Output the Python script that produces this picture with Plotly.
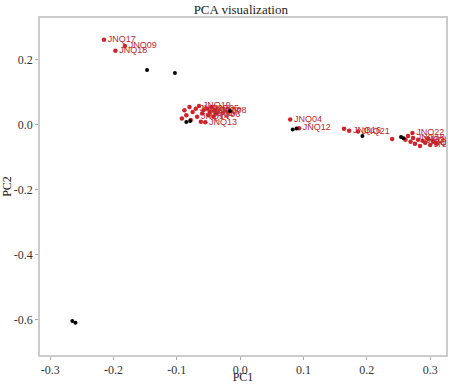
import plotly.graph_objects as go

# Red (labelled) samples
red_x = [-0.215, -0.182, -0.197,
         -0.088, -0.085, -0.080, -0.075, -0.070, -0.068, -0.065, -0.060, -0.058, -0.055,
         -0.052, -0.050, -0.048, -0.045, -0.042, -0.040, -0.038, -0.092, -0.078, -0.062,
         0.079, 0.093, 0.164, 0.172, 0.186, 0.240,
         0.261, 0.265, 0.269, 0.272, 0.273, 0.276, 0.281, 0.284, 0.288, 0.292, 0.297, 0.300, 0.305, 0.310]
red_y = [0.262, 0.243, 0.228,
         0.045, 0.030, 0.055, 0.040, 0.050, 0.025, 0.058, 0.035, 0.045, 0.008,
         0.050, 0.030, 0.040, 0.055, 0.025, 0.045, 0.035, 0.020, 0.015, 0.010,
         0.017, -0.010, -0.012, -0.018, -0.020, -0.043,
         -0.046, -0.034, -0.052, -0.025, -0.040, -0.058, -0.046, -0.065, -0.049, -0.055, -0.043, -0.062, -0.052, -0.058]
red_labels = ["JNQ17", "JNQ09", "JNQ18",
              "", "", "", "", "JNQ20", "JNQ14", "JNQ19", "JNQ01", "JNQ02", "JNQ13",
              "JNQ05", "JNQ06", "JNQ07", "", "", "JNQ08", "", "", "", "",
              "JNQ04", "JNQ12", "", "JNQ16", "JNQ21", "",
              "", "", "", "JNQ22", "JNQ10", "", "JNQ11", "", "JNQ03", "JNQ15", "", "JNQ23", "", ""]

# Black (unlabelled) samples
black_x = [-0.265, -0.260, -0.147, -0.103, -0.085, -0.079, -0.016, 0.083, 0.089, 0.193, 0.254, 0.258]
black_y = [-0.603, -0.609, 0.169, 0.160, 0.009, 0.012, 0.043, -0.014, -0.011, -0.034, -0.037, -0.041]

x_ticks = [-0.3, -0.2, -0.1, 0.0, 0.1, 0.2, 0.3]
y_ticks = [0.2, 0.0, -0.2, -0.4, -0.6]

fig = go.Figure()
fig.add_trace(go.Scatter(
    x=red_x, y=red_y, mode="markers+text", text=red_labels,
    textposition="middle right",
    textfont=dict(family="Liberation Sans", size=9, color="#c0272d"),
    marker=dict(color="#d1232a", size=4.5), showlegend=False))
fig.add_trace(go.Scatter(
    x=black_x, y=black_y, mode="markers",
    marker=dict(color="black", size=4), showlegend=False))

axis_common = dict(
    showgrid=False, zeroline=False, showline=True, linecolor="#cccccc", linewidth=1.5,
    mirror=True, ticks="outside", ticklen=3, tickcolor="#aaaaaa", automargin=False,
    tickfont=dict(family="Liberation Serif", size=12, color="#333333"),
)
fig.update_xaxes(range=[-0.316, 0.325], tickvals=x_ticks,
                 ticktext=[f"{v:.1f}" for v in x_ticks],
                 title=dict(text="PC1", standoff=0,
                            font=dict(family="Liberation Serif", size=12, color="#222222")),
                 **axis_common)
fig.update_yaxes(range=[-0.708, 0.329], tickvals=y_ticks,
                 ticktext=[f"{v:.1f}" for v in y_ticks],
                 title=dict(text="PC2", standoff=0,
                            font=dict(family="Liberation Serif", size=12, color="#222222")),
                 **axis_common)
fig.update_layout(
    width=450, height=384,
    margin=dict(l=40, r=4, t=18, b=29),
    paper_bgcolor="white", plot_bgcolor="white",
    title=dict(text="PCA visualization", x=0.535, xanchor="center", y=0.975, yanchor="middle",
               automargin=False,
               font=dict(family="Liberation Serif", size=13, color="#222222")),
)
fig.write_html("out.html", config={"displayModeBar": False},
               post_script="document.body.style.margin='0';")
